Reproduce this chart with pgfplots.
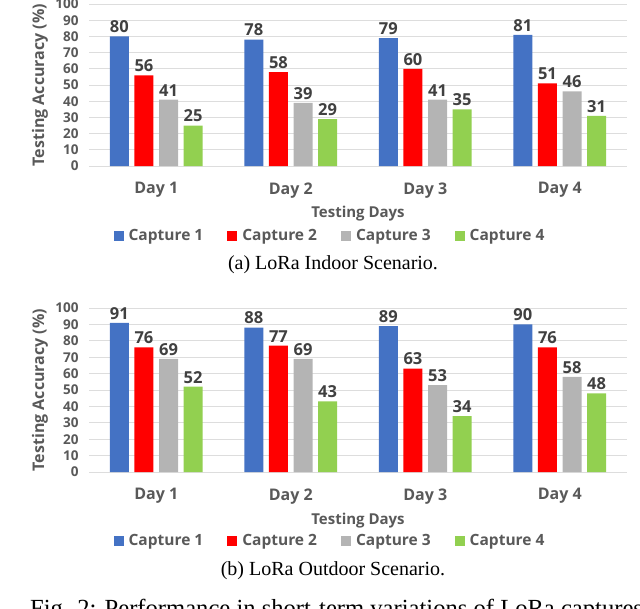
\documentclass[border=0pt]{standalone}
\usepackage{fontspec}
\usepackage{pgfplots}
\pgfplotsset{compat=1.18}
\setmainfont{Liberation Serif}
\newfontfamily\osans{Open Sans}
\definecolor{cblue}{HTML}{4472C4}
\definecolor{cred}{HTML}{FF0000}
\definecolor{cgray}{HTML}{B4B4B4}
\definecolor{cgreen}{HTML}{92D050}
\definecolor{tgray}{HTML}{595959}
\definecolor{vgray}{HTML}{404040}
\definecolor{ggray}{HTML}{DDDDDD}
\pgfplotsset{
  mybar/.style={
    scale only axis, width=538pt,
    ybar=5.6pt, bar width=19pt,
    xmin=-0.5, xmax=3.5, ymin=0, ymax=100,
    enlargelimits=false,
    xtick={0,1,2,3}, xticklabels={Day 1,Day 2,Day 3,Day 4},
    ytick={0,10,...,100},
    major tick length=0pt,
    axis line style={draw=none},
    ymajorgrids, grid style={ggray, line width=0.8pt},
    /pgf/number format/assume math mode=true,
    yticklabel style={font=\osans\bfseries\fontsize{13.5}{15}\selectfont, text=tgray, xshift=-7pt},
    xticklabel style={font=\osans\bfseries\fontsize{16}{19}\selectfont, text=tgray, yshift=-13pt},
    ylabel={Testing Accuracy (\%)},
    ylabel style={font=\osans\bfseries\fontsize{16}{18}\selectfont, text=tgray, at={(axis description cs:-0.091,0.5)}, anchor=center},
    xlabel={Testing Days},
    xlabel style={font=\osans\bfseries\fontsize{15}{18}\selectfont, text=tgray, anchor=center},
    nodes near coords,
    nodes near coords style={font=\osans\bfseries\fontsize{16.5}{19}\selectfont, text=vgray},
    legend columns=4,
    legend style={draw=none, fill=none, anchor=center, font=\osans\bfseries\fontsize{15.5}{18}\selectfont, text=tgray,
      /tikz/every even column/.append style={column sep=22pt}},
    legend image code/.code={\fill[#1,draw=none] (0pt,-5pt) rectangle (10pt,5pt); \path (13pt,0pt);},
  }
}
\begin{document}
\begin{tikzpicture}[x=1pt,y=1pt]
\useasboundingbox (0,0) rectangle (640,-608);
\begin{axis}[mybar, at={(89pt,-166pt)}, anchor=south west, height=162pt,
  xlabel style={at={(axis description cs:0.5,-0.296)}},
  legend style={at={(axis description cs:0.448,-0.432)}}]
\addplot[fill=cblue, draw=none] coordinates {(0,80) (1,78) (2,79) (3,81)};
\addplot[fill=cred, draw=none] coordinates {(0,56) (1,58) (2,60) (3,51)};
\addplot[fill=cgray, draw=none] coordinates {(0,41) (1,39) (2,41) (3,46)};
\addplot[fill=cgreen, draw=none] coordinates {(0,25) (1,29) (2,35) (3,31)};
\legend{Capture 1, Capture 2, Capture 3, Capture 4}
\end{axis}
\node[font=\fontsize{20}{23}\selectfont] at (333,-265) {(a) LoRa Indoor Scenario.};
\begin{axis}[mybar, at={(89pt,-472pt)}, anchor=south west, height=164pt,
  xlabel style={at={(axis description cs:0.5,-0.299)}},
  legend style={at={(axis description cs:0.448,-0.42)}}]
\addplot[fill=cblue, draw=none] coordinates {(0,91) (1,88) (2,89) (3,90)};
\addplot[fill=cred, draw=none] coordinates {(0,76) (1,77) (2,63) (3,76)};
\addplot[fill=cgray, draw=none] coordinates {(0,69) (1,69) (2,53) (3,58)};
\addplot[fill=cgreen, draw=none] coordinates {(0,52) (1,43) (2,34) (3,48)};
\legend{Capture 1, Capture 2, Capture 3, Capture 4}
\end{axis}
\node[font=\fontsize{20}{23}\selectfont] at (333,-571) {(b) LoRa Outdoor Scenario.};
\node[font=\fontsize{24.6}{28}\selectfont, anchor=base west, inner sep=0pt] at (30,-616) {Fig. 2: Performance in short-term variations of LoRa captures};
\end{tikzpicture}
\end{document}
